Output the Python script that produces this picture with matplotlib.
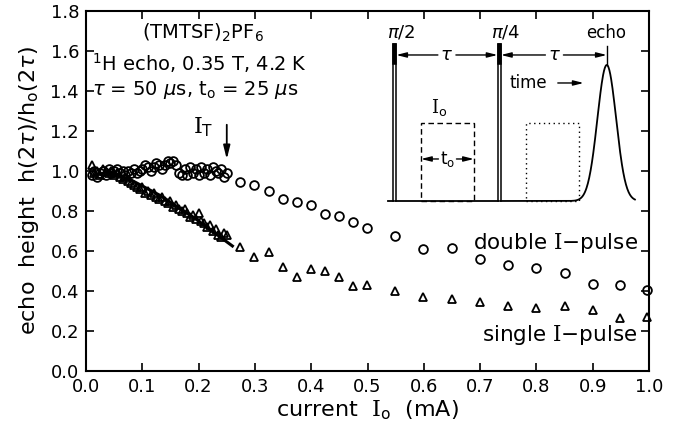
import numpy as np
import matplotlib
matplotlib.use("Agg")
import matplotlib.pyplot as plt
from matplotlib.patches import Rectangle

plt.rcParams['font.family'] = ['DejaVu Sans']
plt.rcParams['mathtext.fontset'] = 'custom'
plt.rcParams['mathtext.rm'] = 'DejaVu Serif'
plt.rcParams['mathtext.it'] = 'DejaVu Sans:italic'
plt.rcParams['mathtext.sf'] = 'DejaVu Sans'

# ---------------- data ----------------
double_x = [0.010, 0.015, 0.020, 0.025, 0.030, 0.035, 0.040, 0.045, 0.050, 0.055,
            0.060, 0.065, 0.070, 0.075, 0.080, 0.085, 0.090, 0.095, 0.100, 0.105,
            0.110, 0.115, 0.120, 0.125, 0.130, 0.135, 0.140, 0.145, 0.150, 0.155,
            0.160, 0.165, 0.170, 0.175, 0.180, 0.185, 0.190, 0.195, 0.200, 0.205,
            0.210, 0.215, 0.220, 0.225, 0.230, 0.235, 0.240, 0.245, 0.250,
            0.274, 0.298, 0.325, 0.350, 0.375, 0.400, 0.425, 0.449, 0.474, 0.499,
            0.549, 0.599, 0.650, 0.700, 0.750, 0.800, 0.850, 0.900, 0.949, 0.996]
double_y = [0.98, 1.00, 0.97, 0.99, 1.00, 0.98, 1.01, 0.99, 1.00, 1.01,
            0.99, 1.00, 0.98, 1.00, 0.99, 1.01, 0.99, 1.00, 1.01, 1.03,
            1.02, 1.00, 1.02, 1.04, 1.03, 1.01, 1.03, 1.05, 1.04, 1.05,
            1.03, 0.99, 0.98, 1.01, 0.98, 1.02, 0.99, 1.01, 0.98, 1.02,
            0.99, 1.01, 0.98, 1.02, 1.00, 0.99, 1.01, 0.97, 0.99,
            0.945, 0.93, 0.90, 0.86, 0.845, 0.83, 0.785, 0.775, 0.745, 0.715,
            0.675, 0.61, 0.615, 0.56, 0.53, 0.515, 0.49, 0.435, 0.43, 0.405]

single_x = [0.010, 0.015, 0.020, 0.025, 0.030, 0.035, 0.040, 0.045, 0.050, 0.055,
            0.060, 0.065, 0.070, 0.075, 0.080, 0.085, 0.090, 0.095, 0.100, 0.105,
            0.110, 0.115, 0.120, 0.125, 0.130, 0.135, 0.140, 0.145, 0.150, 0.155,
            0.160, 0.165, 0.170, 0.175, 0.180, 0.185, 0.190, 0.195, 0.200, 0.205,
            0.210, 0.215, 0.220, 0.225, 0.230, 0.235, 0.240, 0.245, 0.250,
            0.273, 0.298, 0.325, 0.350, 0.375, 0.400, 0.425, 0.449, 0.474, 0.499,
            0.549, 0.599, 0.650, 0.700, 0.750, 0.800, 0.850, 0.900, 0.949, 0.996]
single_y = [1.03, 0.99, 1.00, 0.98, 1.01, 1.00, 0.99, 1.00, 0.98, 0.99,
            0.97, 0.96, 0.97, 0.95, 0.94, 0.93, 0.92, 0.91, 0.92, 0.89,
            0.90, 0.88, 0.89, 0.87, 0.86, 0.87, 0.85, 0.84, 0.85, 0.82,
            0.83, 0.81, 0.80, 0.81, 0.79, 0.77, 0.78, 0.76, 0.79, 0.75,
            0.74, 0.72, 0.73, 0.70, 0.71, 0.68, 0.67, 0.69, 0.68,
            0.62, 0.57, 0.595, 0.52, 0.47, 0.51, 0.50, 0.47, 0.425, 0.43,
            0.40, 0.37, 0.36, 0.345, 0.325, 0.315, 0.325, 0.305, 0.265, 0.27]

fit_x = [0.04, 0.08, 0.13, 0.19, 0.26]
fit_y = [1.00, 0.955, 0.88, 0.77, 0.625]

xticks = [0.0, 0.1, 0.2, 0.3, 0.4, 0.5, 0.6, 0.7, 0.8, 0.9, 1.0]
yticks = [0.0, 0.2, 0.4, 0.6, 0.8, 1.0, 1.2, 1.4, 1.6, 1.8]

# inset schematic (pulse sequence) parameters, in data units
base_y = 0.85
pulse1 = (0.546, 0.551, 1.635)
pulse2 = (0.731, 0.737, 1.635)
box_dash = (0.595, 0.689, 1.24)
box_dot = (0.781, 0.876, 1.24)
echo_pk = (0.925, 1.53, 0.0166)

# ---------------- figure ----------------
fig = plt.figure(figsize=(6.79, 4.34), dpi=100)
ax = fig.add_axes([0.1267, 0.1452, 0.8291, 0.8295])
ax.set_xlim(0, 1.0)
ax.set_ylim(0, 1.8)
ax.set_xticks(xticks)
ax.set_yticks(yticks)
ax.set_xticklabels([f"{v:.1f}" for v in xticks])
ax.set_yticklabels([f"{v:.1f}" for v in yticks])
ax.tick_params(direction='in', length=6, width=1.2, top=True, right=True,
               labelsize=13, pad=5, labeltop=False, labelright=False)
for s in ax.spines.values():
    s.set_linewidth(1.5)

ax.plot(double_x, double_y, 'o', ms=6.3, mfc='none', mec='black', mew=1.3, clip_on=False)
ax.plot(single_x, single_y, '^', ms=6.3, mfc='none', mec='black', mew=1.3, clip_on=False)
ax.plot(fit_x, fit_y, '-', color='black', lw=2.2)

ax.set_xlabel(r"current  $\mathrm{I}_\mathsf{o}$  (mA)", fontsize=16, labelpad=2)
ax.set_ylabel(r"echo  height  h(2$\tau$)/h$_\mathsf{o}$(2$\tau$)", fontsize=16, labelpad=7)

ax.text(0.10, 1.69, r"(TMTSF)$_\mathsf{2}$PF$_\mathsf{6}$", fontsize=14, va='center')
ax.text(0.01, 1.54, r"$^\mathsf{1}$H echo, 0.35 T, 4.2 K", fontsize=14, va='center')
ax.text(0.01, 1.405, r"$\tau$ = 50 $\mu$s, t$_\mathsf{o}$ = 25 $\mu$s", fontsize=14, va='center')

ax.text(0.19, 1.22, r"$\mathrm{I}_\mathsf{T}$", fontsize=16, va='center')
ax.annotate("", xy=(0.25, 1.045), xytext=(0.25, 1.245),
            arrowprops=dict(arrowstyle='-|>,head_length=0.8,head_width=0.2', color='black', lw=1.3))

ax.text(0.98, 0.64, r"double $\mathrm{I}$$-$pulse", fontsize=15.5, ha='right', va='center')
ax.text(0.98, 0.18, r"single $\mathrm{I}$$-$pulse", fontsize=15.5, ha='right', va='center')

# ---- inset pulse sequence ----
lw = 1.3
ax.plot([0.537, pulse1[0]], [base_y, base_y], color='black', lw=lw)
ax.plot([pulse1[1], pulse2[0]], [base_y, base_y], color='black', lw=lw)
for p in (pulse1, pulse2):
    ax.add_patch(Rectangle((p[0], base_y), p[1] - p[0], p[2] - base_y,
                           fill=False, ec='black', lw=1.1))
    ax.add_patch(Rectangle((p[0], p[2] - 0.1), p[1] - p[0], 0.1, fc='black', ec='black', lw=1.1))
gx = np.linspace(pulse2[1], 0.975, 300)
gy = base_y + (echo_pk[1] - base_y) * np.exp(-0.5 * ((gx - echo_pk[0]) / echo_pk[2]) ** 2)
ax.plot(gx, gy, color='black', lw=lw)
ax.plot([echo_pk[0], echo_pk[0]], [echo_pk[1], 1.625], color='black', lw=1.0)

ax.add_patch(Rectangle((box_dash[0], base_y), box_dash[1] - box_dash[0], box_dash[2] - base_y,
                       fill=False, ec='black', lw=1.0, ls=(0, (4, 2.5))))
ax.add_patch(Rectangle((box_dot[0], base_y), box_dot[1] - box_dot[0], box_dot[2] - base_y,
                       fill=False, ec='black', lw=1.0, ls=(0, (1, 2.5))))

arr = dict(arrowstyle='-|>,head_length=0.6,head_width=0.15', color='black', lw=1.0,
           shrinkA=0, shrinkB=0)
ty = 1.58
ax.text(0.641, ty, r"$\tau$", fontsize=13, ha='center', va='center')
ax.annotate("", xy=(pulse1[1], ty), xytext=(0.625, ty), arrowprops=arr)
ax.annotate("", xy=(pulse2[0], ty), xytext=(0.657, ty), arrowprops=arr)
ax.text(0.832, ty, r"$\tau$", fontsize=13, ha='center', va='center')
ax.annotate("", xy=(pulse2[1], ty), xytext=(0.816, ty), arrowprops=arr)
ax.annotate("", xy=(echo_pk[0], ty), xytext=(0.848, ty), arrowprops=arr)

tyo = 1.06
ax.text(0.642, tyo, r"t$_\mathsf{o}$", fontsize=12, ha='center', va='center')
ax.annotate("", xy=(box_dash[0], tyo), xytext=(0.626, tyo), arrowprops=arr)
ax.annotate("", xy=(box_dash[1], tyo), xytext=(0.658, tyo), arrowprops=arr)
ax.text(0.612, 1.315, r"$\mathrm{I}_\mathsf{o}$", fontsize=13, ha='left', va='center')

ax.text(0.560, 1.69, r"$\pi$/2", fontsize=13, ha='center', va='center')
ax.text(0.746, 1.69, r"$\pi$/4", fontsize=13, ha='center', va='center')
ax.text(0.924, 1.69, "echo", fontsize=12, ha='center', va='center')
ax.text(0.753, 1.44, "time", fontsize=12, ha='left', va='center')
ax.annotate("", xy=(0.884, 1.44), xytext=(0.838, 1.44), arrowprops=arr)

fig.savefig("out.png", dpi=100)
